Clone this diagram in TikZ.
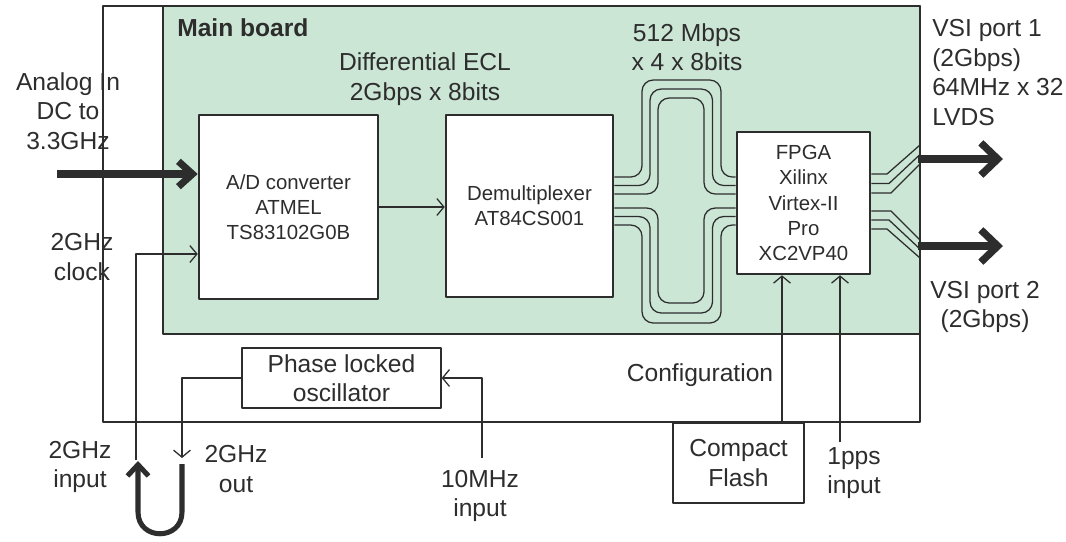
\documentclass[tikz,border=0pt]{standalone}
\usepackage{fontspec}
\setmainfont{Liberation Sans}
\usetikzlibrary{arrows.meta,calc}
\definecolor{boardgreen}{RGB}{204,230,214}
\definecolor{inkgray}{RGB}{45,45,45}
\newcommand{\lblfont}{\fontsize{17.5}{21}\selectfont}
\newcommand{\blkfont}{\fontsize{14.5}{17.8}\selectfont}
\tikzset{
  label text/.style={text=inkgray, align=center, inner sep=0pt, font=\lblfont},
  block/.style={draw=inkgray, fill=white, line width=1.8pt, text=inkgray, align=center, inner sep=0pt, font=\blkfont},
  thin block/.style={draw=inkgray, fill=white, line width=0.9pt, text=inkgray, align=center, inner sep=0pt, font=\lblfont},
  wire/.style={draw=inkgray, line width=0.9pt},
  sig/.style={wire, -{Straight Barb[length=5pt,width=12pt]}},
  bus/.style={wire, rounded corners=8pt},
  in arrow/.style={draw=inkgray, line width=5pt, -{Straight Barb[length=10pt,width=18pt]}},
  loop arrow/.style={draw=inkgray, line width=3.6pt, -{Straight Barb[length=8pt,width=15pt]}},
  port arrow/.style={draw=inkgray, line width=5.2pt, -{Straight Barb[length=12pt,width=23pt]}}
}
\begin{document}
\begin{tikzpicture}[x=0.025cm, y=-0.025cm, line join=round]
% one unit = one pixel of the drawing
\def\pxsz{0.025cm}
\useasboundingbox (0,0) rectangle (1066,541);
% Outer frame and main board
\draw[wire] (103,6) rectangle (920,422);
\filldraw[wire, fill=boardgreen] (163,6) rectangle (920,334);
\node[label text, font=\bfseries\lblfont, anchor=north west] (title) at (177,18) {Main board};
% Blocks
\node[block, minimum width=179*\pxsz, minimum height=184*\pxsz] (adc) at (288.5,207) {A/D converter\\ATMEL\\TS83102G0B};
\node[block, minimum width=167*\pxsz, minimum height=182*\pxsz] (demux) at (529.5,206) {Demultiplexer\\AT84CS001};
\node[block, minimum width=133*\pxsz, minimum height=142*\pxsz] (fpga) at (803.5,203) {FPGA\\Xilinx\\Virtex-II\\Pro\\XC2VP40};
\node[thin block, minimum width=199*\pxsz, minimum height=60*\pxsz] (plo) at (341.5,378) {Phase locked\\oscillator};
\node[thin block, minimum width=131*\pxsz, minimum height=80*\pxsz] (flash) at (738.5,463) {Compact\\Flash};
% Labels
\node[label text] (analog) at (68,111) {Analog In\\DC to\\3.3GHz};
\node[label text] (clklbl) at (82,257) {2GHz\\clock};
\node[label text] (ecl) at (425,79) {Differential ECL\\2Gbps x 8bits};
\node[label text] (mbps) at (687,47) {512 Mbps\\x 4 x 8bits};
\node[label text, align=left, anchor=north west] (vsione) at (932,19) {VSI port 1\\(2Gbps)\\64MHz x 32\\LVDS};
\node[label text] (vsitwo) at (985,307) {VSI port 2\\(2Gbps)};
\node[label text] (config) at (700,375) {Configuration};
\node[label text] (ppslbl) at (854,473) {1pps\\input};
\node[label text] (reflbl) at (480,496) {10MHz\\input};
\node[label text] (inlbl) at (80,467) {2GHz\\input};
\node[label text] (outlbl) at (236,469) {2GHz\\out};
% Free ends
\coordinate (ain) at (57,174);
\coordinate (clkin) at (136,460);
\coordinate (clkrow) at (0,254);
\coordinate (clkout) at (182,458);
\coordinate (refin) at (482,458);
\coordinate (cfgx) at (782,0);
\coordinate (ppsin) at (840,442);
\coordinate (loopout) at (182,464);
\coordinate (loopin) at (138,461);
\coordinate (portone) at (918,159);
\coordinate (porttwo) at (918,246);
% Signal paths
\draw[in arrow] (ain) -- (ain -| adc.west);
\draw[sig] (adc.east) -- (adc.east -| demux.west);
\draw[sig] (clkin) |- (adc.west |- clkrow);
\draw[sig] (plo.west) -| (clkout);
\draw[sig] (refin) |- (plo.east);
\draw[sig] (flash.north -| cfgx) -- (fpga.south -| cfgx);
\draw[sig] (ppsin) -- (ppsin |- fpga.south);
\draw[loop arrow] (loopout) -- ++(0,48) .. controls +(0,29) and +(0,29) .. ($(loopin)+(0,51)$) -- (loopin);
% Buses between demultiplexer and FPGA
\foreach \k in {0,1,2} {
  \draw[bus] (demux.east |- 0,{177+8.5*\k}) -- ({642+8*\k},{177+8.5*\k}) -- ({642+8*\k},{80+9*\k})
    -- ({721-8.5*\k},{80+9*\k}) -- ({721-8.5*\k},{177+8.5*\k}) -- (fpga.west |- 0,{177+8.5*\k});
  \draw[bus] (demux.east |- 0,{225-8.5*\k}) -- ({642+8*\k},{225-8.5*\k}) -- ({642+8*\k},{323-10*\k})
    -- ({721-8.5*\k},{323-10*\k}) -- ({721-8.5*\k},{225-8.5*\k}) -- (fpga.west |- 0,{225-8.5*\k});
}
% FPGA outputs
\foreach \k in {0,1,2} {
  \draw[wire] (fpga.east |- 0,{174+9.5*\k}) -- ({887+2*\k},{174+9.5*\k}) -- (920,{145+9.5*\k});
  \draw[wire] (fpga.east |- 0,{211+9*\k}) -- ({891-2*\k},{211+9*\k}) -- (920,{240+9*\k});
}
\draw[port arrow] (portone) -- ++(85,0);
\draw[port arrow] (porttwo) -- ++(85,0);
\end{tikzpicture}
\end{document}
